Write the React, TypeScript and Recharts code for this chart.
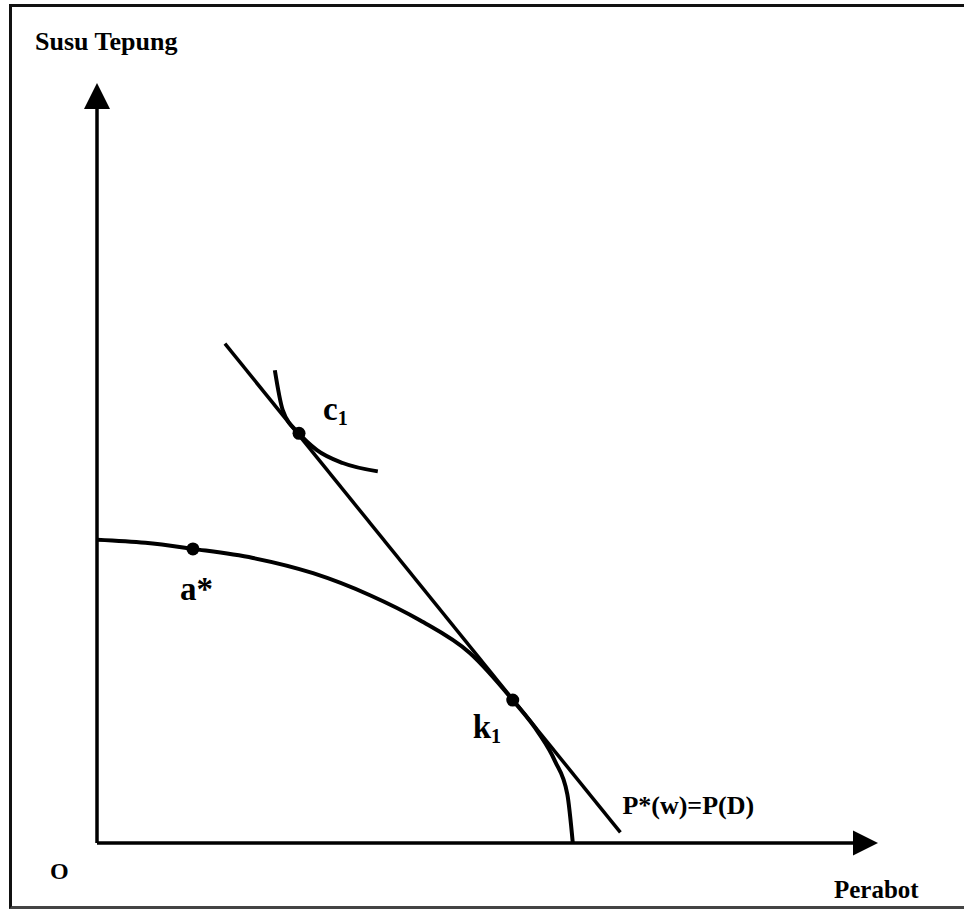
import React from "react";
import { ComposedChart, Line, Scatter, XAxis, YAxis, ReferenceDot } from "recharts";

// production possibility frontier
const frontier = [
  { x: 0, y: 3.99 },
  { x: 0.62, y: 3.95 },
  { x: 1.23, y: 3.87 },
  { x: 2.0, y: 3.75 },
  { x: 2.77, y: 3.55 },
  { x: 3.5, y: 3.26 },
  { x: 4.14, y: 2.93 },
  { x: 4.78, y: 2.5 },
  { x: 5.33, y: 1.88 },
  { x: 5.66, y: 1.45 },
  { x: 5.87, y: 1.08 },
  { x: 6.03, y: 0.64 },
  { x: 6.1, y: 0 },
];

// world price line P*(w)=P(D)
const priceLine = [
  { x: 1.64, y: 6.57 },
  { x: 6.71, y: 0.14 },
];

// indifference curve through c1
const indifference = [
  { x: 2.28, y: 6.22 },
  { x: 2.38, y: 5.7 },
  { x: 2.59, y: 5.39 },
  { x: 2.82, y: 5.17 },
  { x: 3.15, y: 5.0 },
  { x: 3.6, y: 4.89 },
];

const points = [
  { x: 1.23, y: 3.87, name: "a*" },
  { x: 2.59, y: 5.39, name: "c1" },
  { x: 5.33, y: 1.88, name: "k1" },
];

// axes drawn as series
const yAxisLine = [
  { x: 0, y: 0 },
  { x: 0, y: 9.7 },
];
const xAxisLine = [
  { x: 0, y: 0 },
  { x: 9.75, y: 0 },
];
const upArrow = [{ x: 0, y: 10 }];
const rightArrow = [{ x: 10, y: 0 }];

const font = "Liberation Serif, DejaVu Serif, serif";
const ink = "#000";

const labelOffset: Record<string, { dx: number; dy: number }> = {
  "a*": { dx: -13, dy: 51 },
  c1: { dx: 24, dy: -13 },
  k1: { dx: -40, dy: 38 },
};

const textStyle = { fontFamily: font, fontWeight: 700 };

const PointShape = (props: any) => {
  const { cx, cy, payload } = props;
  const off = labelOffset[payload.name];
  const main = payload.name.charAt(0);
  const rest = payload.name.slice(1);
  return (
    <g>
      <circle cx={cx} cy={cy} r={6.5} fill={ink} />
      <text x={cx + off.dx} y={cy + off.dy} style={{ ...textStyle, fontSize: 33 }} fill={ink}>
        {main}
        {rest === "*" ? (
          <tspan>*</tspan>
        ) : (
          <tspan style={{ fontSize: 20 }} dy={5}>
            {rest}
          </tspan>
        )}
      </text>
    </g>
  );
};

const UpArrowShape = (props: any) => {
  const { cx, cy } = props;
  return (
    <polygon
      points={`${cx},${cy} ${cx - 13},${cy + 26} ${cx + 13},${cy + 26}`}
      fill={ink}
    />
  );
};

const RightArrowShape = (props: any) => {
  const { cx, cy } = props;
  return (
    <polygon
      points={`${cx + 1},${cy} ${cx - 24},${cy - 12.5} ${cx - 24},${cy + 12.5}`}
      fill={ink}
    />
  );
};

const makeText = (text: string, dx: number, dy: number, size: number) => (props: any) => {
  const { cx, cy } = props;
  return (
    <text x={cx + dx} y={cy + dy} style={{ ...textStyle, fontSize: size }} fill={ink}>
      {text}
    </text>
  );
};

const App: React.FC = () => {
  return (
    <div
      style={{
        position: "absolute",
        left: 0,
        top: 0,
        width: 964,
        height: 913,
        overflow: "hidden",
        background: "#fff",
      }}
    >
      <div
        style={{
          position: "absolute",
          left: 9,
          top: 4,
          width: 990,
          height: 899,
          borderTop: "3px solid #111",
          borderLeft: "3px solid #111",
          borderBottom: "3px solid #444",
        }}
      />
      <div style={{ position: "absolute", left: 0, top: 0 }}>
        <ComposedChart
          width={964}
          height={913}
          margin={{ top: 83, left: 97, right: 87, bottom: 70 }}
        >
          <XAxis type="number" dataKey="x" domain={[0, 10]} hide />
          <YAxis type="number" dataKey="y" domain={[0, 10]} hide />
          <Line
            data={yAxisLine}
            dataKey="y"
            type="linear"
            stroke={ink}
            strokeWidth={3.5}
            dot={false}
            activeDot={false}
            isAnimationActive={false}
          />
          <Line
            data={xAxisLine}
            dataKey="y"
            type="linear"
            stroke={ink}
            strokeWidth={3.5}
            dot={false}
            activeDot={false}
            isAnimationActive={false}
          />
          <Line
            data={frontier}
            dataKey="y"
            type="monotone"
            stroke={ink}
            strokeWidth={4}
            dot={false}
            activeDot={false}
            isAnimationActive={false}
          />
          <Line
            data={priceLine}
            dataKey="y"
            type="linear"
            stroke={ink}
            strokeWidth={3.5}
            dot={false}
            activeDot={false}
            isAnimationActive={false}
          />
          <Line
            data={indifference}
            dataKey="y"
            type="monotone"
            stroke={ink}
            strokeWidth={4}
            dot={false}
            activeDot={false}
            isAnimationActive={false}
          />
          <Scatter data={points} dataKey="y" shape={PointShape} isAnimationActive={false} />
          <Scatter data={upArrow} dataKey="y" shape={UpArrowShape} isAnimationActive={false} />
          <Scatter data={rightArrow} dataKey="y" shape={RightArrowShape} isAnimationActive={false} />
          <ReferenceDot
            x={priceLine[1].x}
            y={priceLine[1].y}
            r={0}
            shape={makeText("P*(w)=P(D)", 2, -18, 26)}
          />
          <ReferenceDot x={0} y={10} r={0} ifOverflow="visible" shape={makeText("Susu Tepung", -62, -33, 26)} />
          <ReferenceDot x={0} y={0} r={0} ifOverflow="visible" shape={makeText("O", -47, 36, 24)} />
          <ReferenceDot x={10} y={0} r={0} ifOverflow="visible" shape={makeText("Perabot", -43, 55, 25)} />
        </ComposedChart>
      </div>
    </div>
  );
};

export default App;
